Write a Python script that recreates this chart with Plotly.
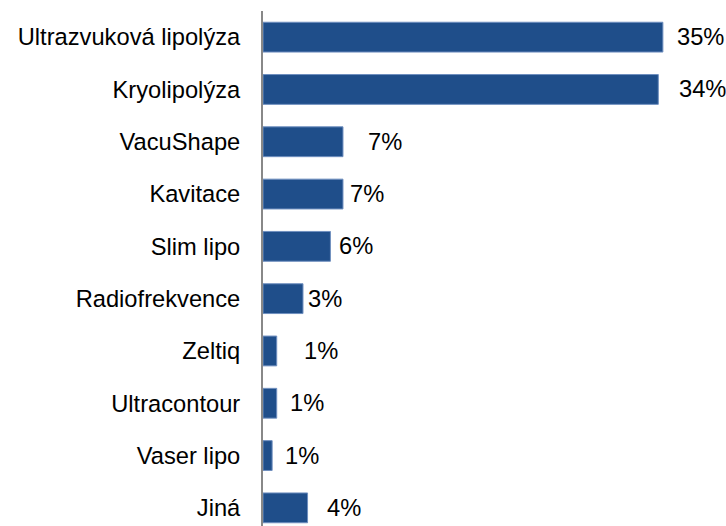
import plotly.graph_objects as go

categories = ["Ultrazvuková lipolýza", "Kryolipolýza", "VacuShape", "Kavitace", "Slim lipo",
              "Radiofrekvence", "Zeltiq", "Ultracontour", "Vaser lipo", "Jiná"]
values = [35.0, 34.6, 7.0, 7.0, 5.9, 3.5, 1.2, 1.2, 0.8, 3.9]
labels = ["35%", "34%", "7%", "7%", "6%", "3%", "1%", "1%", "1%", "4%"]

# label gap (px) to the right of each bar end, as in the original
label_gaps = [12, 19, 23, 5, 7, 3, 25, 11, 11, 17]

FONT = "Liberation Sans, Arial, sans-serif"
FS = 23.7

fig = go.Figure(go.Bar(
    x=values, y=categories, orientation="h",
    marker=dict(color="#1F4E8A", line=dict(color="#6F8FBF", width=1)),
    width=0.57, hoverinfo="skip",
))

for c, v, t, g in zip(categories, values, labels, label_gaps):
    fig.add_annotation(x=v, y=c, text=t, showarrow=False, xanchor="left",
                       xshift=g, font=dict(family=FONT, size=FS, color="#000000"))

fig.update_layout(
    width=726, height=526,
    margin=dict(l=263, r=6, t=11, b=0),
    paper_bgcolor="white", plot_bgcolor="white",
    showlegend=False,
    font=dict(family=FONT, size=FS, color="#000000"),
    xaxis=dict(range=[0, 40], visible=False, showgrid=False, zeroline=False, fixedrange=True),
    yaxis=dict(range=[9.347, -0.5], autorange=False, showgrid=False, zeroline=False,
               showline=True, linecolor="#888888", linewidth=2, ticks="",
               ticklabelstandoff=16, tickfont=dict(family=FONT, size=FS, color="#000000"),
               fixedrange=True),
)

fig.write_html(
    "out.html",
    config={"displayModeBar": False},
    post_script="document.body.style.margin='0';document.body.style.overflow='hidden';",
)
